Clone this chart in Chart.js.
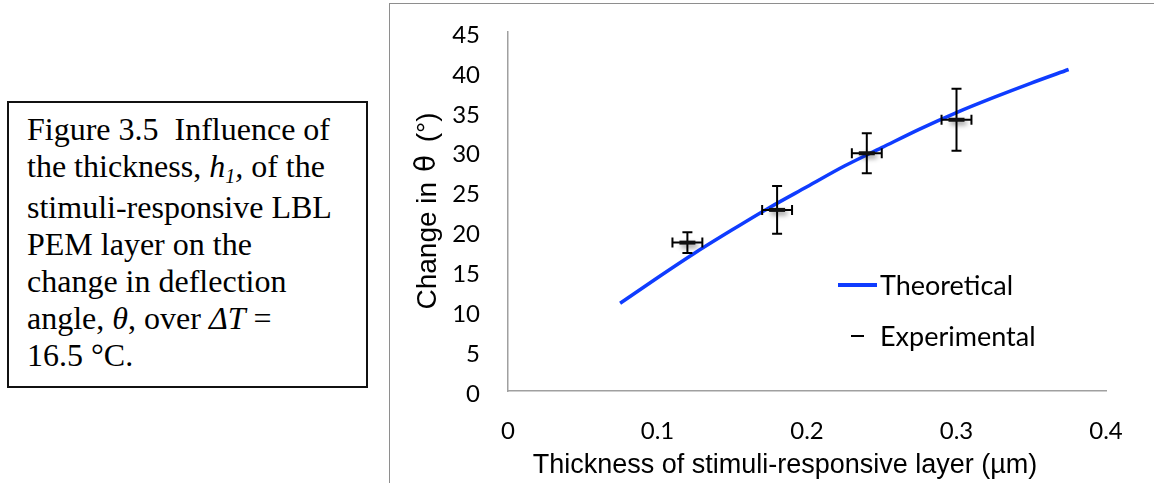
<!DOCTYPE html>
<html><head><meta charset="utf-8">
<script src="https://cdn.jsdelivr.net/npm/chart.js@4.4.1/dist/chart.umd.min.js"></script>
<style>
html,body{margin:0;padding:0;width:1154px;height:483px;overflow:hidden;background:#fff;}
#frame{position:absolute;left:389px;top:3px;width:900px;height:600px;border:1px solid #8e8e8e;box-sizing:border-box;}
#wrap{position:absolute;left:0;top:0;width:1154px;height:483px;}
#caption{position:absolute;left:7px;top:101px;width:361px;height:287px;box-sizing:border-box;border:2px solid #111;padding:8px 0 0 18px;font-family:"Liberation Serif","Times New Roman",serif;font-size:32px;line-height:37px;color:#000;white-space:nowrap;background:#fff;}
#caption sub{font-size:20px;vertical-align:baseline;position:relative;top:6px;}
</style></head><body>
<div id="frame"></div>
<div id="wrap"><canvas id="c" width="1154" height="483"></canvas></div>
<div id="caption">Figure 3.5&nbsp; Influence of<br>the thickness, <i>h<sub>1</sub>,</i> of the<br>stimuli-responsive LBL<br>PEM layer on the<br>change in deflection<br>angle, <i>θ</i>, over <i>ΔT</i> =<br>16.5 °C.</div>
<script>
const theoryX = [0.075, 0.1, 0.125, 0.15, 0.175, 0.2, 0.225, 0.25, 0.275, 0.3, 0.325, 0.35, 0.375];
const theoryY = [11.0, 14.2, 17.3, 20.2, 23.0, 25.6, 28.2, 30.5, 32.8, 34.9, 36.8, 38.6, 40.3];
const expX = [0.12, 0.18, 0.24, 0.30];
const expY = [18.6, 22.7, 29.8, 34.0];
const expXErr = [0.01, 0.01, 0.01, 0.01];
const expYErr = [1.3, 3.0, 2.5, 3.9];
const xTickLabels = ['0', '0.1', '0.2', '0.3', '0.4'];
const yTickLabels = ['0', '5', '10', '15', '20', '25', '30', '35', '40', '45'];
const seriesNames = ['Experimental', 'Theoretical'];
const xTitle = 'Thickness of stimuli-responsive layer (µm)';
const yTitleParts = ['Change in', 'θ', '(°)'];

const BLUE = '#0f3cff';
const tickFont = {family: 'Lato', size: 24};

const errPlugin = {
  id: 'errbars',
  beforeDatasetDraw(chart, args) {
    if (args.index !== 0) return;
    const ctx = chart.ctx, xs = chart.scales.x, ys = chart.scales.y;
    ctx.save();
    ctx.strokeStyle = '#000';
    ctx.lineWidth = 2;
    for (let i = 0; i < expX.length; i++) {
      const px = xs.getPixelForValue(expX[i]);
      const py = ys.getPixelForValue(expY[i]);
      const x1 = xs.getPixelForValue(expX[i] - expXErr[i]);
      const x2 = xs.getPixelForValue(expX[i] + expXErr[i]);
      const y1 = ys.getPixelForValue(expY[i] + expYErr[i]);
      const y2 = ys.getPixelForValue(expY[i] - expYErr[i]);
      ctx.beginPath();
      ctx.moveTo(px, y1); ctx.lineTo(px, y2);
      ctx.moveTo(x1, py); ctx.lineTo(x2, py);
      ctx.moveTo(px - 5, y1); ctx.lineTo(px + 5, y1);
      ctx.moveTo(px - 5, y2); ctx.lineTo(px + 5, y2);
      ctx.moveTo(x1, py - 5); ctx.lineTo(x1, py + 5);
      ctx.moveTo(x2, py - 5); ctx.lineTo(x2, py + 5);
      ctx.stroke();
    }
    ctx.restore();
    ctx.save();
    ctx.shadowColor = 'rgba(0,0,0,0.45)';
    ctx.shadowBlur = 5;
    ctx.shadowOffsetX = 2;
    ctx.shadowOffsetY = 3;
  },
  afterDatasetDraw(chart, args) {
    if (args.index !== 0) return;
    chart.ctx.restore();
  },
  afterDraw(chart) {
    const ctx = chart.ctx;
    const area = chart.chartArea;
    ctx.save();
    ctx.fillStyle = '#000';
    ctx.font = '27px "Liberation Sans", Arial, sans-serif';
    ctx.textAlign = 'center';
    ctx.textBaseline = 'middle';
    ctx.fillText(xTitle, 785, 466);
    // y title (rotated)
    ctx.save();
    ctx.translate(428, (area.top + area.bottom) / 2);
    ctx.rotate(-Math.PI / 2);
    ctx.textBaseline = 'middle';
    ctx.font = '28px "Liberation Sans", Arial, sans-serif';
    ctx.textAlign = 'left';
    ctx.fillText(yTitleParts[0], -98, 0);
    ctx.textAlign = 'right';
    ctx.fillText(yTitleParts[2], 99, 0);
    ctx.textAlign = 'center';
    ctx.font = '28px "DejaVu Sans", sans-serif';
    ctx.fillText(yTitleParts[1], 48, 0);
    ctx.restore();
    // legend
    ctx.strokeStyle = BLUE;
    ctx.lineWidth = 4;
    ctx.beginPath(); ctx.moveTo(838, 285); ctx.lineTo(877, 285); ctx.stroke();
    ctx.strokeStyle = '#000';
    ctx.lineWidth = 2;
    ctx.beginPath(); ctx.moveTo(851, 336); ctx.lineTo(864, 336); ctx.stroke();
    ctx.font = '27px Lato';
    ctx.textAlign = 'left';
    ctx.fillText(seriesNames[1], 880, 286);
    ctx.fillText(seriesNames[0], 880, 337);
    ctx.restore();
  }
};

new Chart(document.getElementById('c'), {
  type: 'scatter',
  data: {
    datasets: [
      {
        label: seriesNames[0],
        data: expX.map((x, i) => ({x: x, y: expY[i]})),
        pointStyle: 'line',
        pointRadius: 8,
        pointHoverRadius: 8,
        borderWidth: 4,
        pointBorderWidth: 4,
        borderColor: '#111',
        backgroundColor: '#111',
        showLine: false
      },
      {
        label: seriesNames[1],
        data: theoryX.map((x, i) => ({x: x, y: theoryY[i]})),
        showLine: true,
        borderColor: BLUE,
        backgroundColor: BLUE,
        borderWidth: 3.5,
        pointRadius: 0,
        tension: 0.4,
        cubicInterpolationMode: 'monotone'
      }
    ]
  },
  options: {
    responsive: false,
    animation: false,
    devicePixelRatio: 1,
    layout: {padding: {left: 408, right: 48, top: 32, bottom: 0}},
    plugins: {legend: {display: false}, tooltip: {enabled: false}},
    scales: {
      x: {
        type: 'linear', min: 0, max: 0.4,
        afterFit(s) { s.height = 92; },
        grid: {display: true, drawOnChartArea: false, drawTicks: true, tickLength: 25, tickColor: 'rgba(0,0,0,0)', color: 'rgba(0,0,0,0)'},
        border: {display: true, color: '#a0a0a0', width: 1.5},
        ticks: {stepSize: 0.1, padding: 1, color: '#000', font: tickFont, maxRotation: 0,
          callback: (v, i) => xTickLabels[i]}
      },
      y: {
        type: 'linear', min: 0, max: 45,
        afterFit(s) { s.width = 100; },
        grid: {display: true, drawOnChartArea: false, drawTicks: true, tickLength: 26, tickColor: 'rgba(0,0,0,0)', color: 'rgba(0,0,0,0)'},
        border: {display: true, color: '#a0a0a0', width: 1.5},
        ticks: {stepSize: 5, padding: 2, labelOffset: 3, color: '#000', font: tickFont,
          callback: (v, i) => yTickLabels[i]},
        title: {display: false}
      }
    }
  },
  plugins: [errPlugin]
});
</script>
</body></html>
